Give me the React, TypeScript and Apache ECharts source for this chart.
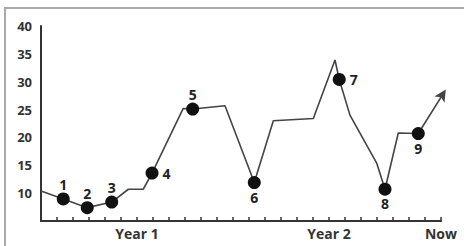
import React, { useEffect, useRef } from "react";
import * as echarts from "echarts";

// Line path (x = months from start, y = value)
const pathX = [0, 1.39, 2.89, 4.42, 5.46, 6.39, 6.94, 8.89, 9.48, 11.5, 13.33, 14.52, 17.02, 18.375, 18.64, 19.31, 20.98, 21.5, 22.33, 23.58, 25.3];
const pathY = [10.4, 8.95, 7.4, 8.4, 10.7, 10.7, 13.6, 25.2, 25.1, 25.7, 11.9, 23.0, 23.4, 33.9, 30.4, 24.0, 15.4, 10.7, 20.8, 20.7, 28.6];

// Marked, numbered points: index into the path
const markedIdx = [1, 2, 3, 6, 8, 10, 14, 17, 19];
const markedNames = ["1", "2", "3", "4", "5", "6", "7", "8", "9"];
const markedLabelPos = ["top", "top", "top", "right", "top", "bottom", "right", "bottom", "bottom"];

// Axis labels
const xLabelPositions = [6, 18, 25];
const xLabelTexts = ["Year 1", "Year 2", "Now"];
const yTicks = [10, 15, 20, 25, 30, 35, 40];

const FONT = "'Open Sans', 'Noto Sans', sans-serif";

export default function App() {
  const ref = useRef<HTMLDivElement>(null);
  useEffect(() => {
    if (!ref.current) return;
    const chart = echarts.init(ref.current, null, { renderer: "svg" });
    const lastIdx = pathX.length - 1;
    const data = pathX.map((x, i) => {
      const mi = markedIdx.indexOf(i);
      if (mi >= 0) {
        return {
          value: [x, pathY[i]],
          symbol: "circle",
          symbolSize: 13,
          itemStyle: { color: "#111" },
          label: {
            show: true,
            formatter: markedNames[mi],
            position: markedLabelPos[mi],
            distance: markedLabelPos[mi] === "right" ? 4 : 1,
            color: "#222",
            fontSize: 14,
            fontWeight: 700,
            fontFamily: FONT,
          },
        };
      }
      if (i === lastIdx) {
        return {
          value: [x, pathY[i]],
          symbol: "arrow",
          symbolSize: [9, 12],
          symbolRotate: -32,
          itemStyle: { color: "#444" },
        };
      }
      return { value: [x, pathY[i]], symbol: "none" };
    });

    chart.setOption({
      animation: false,
      backgroundColor: "#fff",
      grid: { left: 41, right: 23, top: 26, bottom: 25 },
      graphic: [
        {
          type: "rect",
          shape: { x: 5, y: 8, width: 520, height: 300 },
          style: { fill: "none", stroke: "#aaa", lineWidth: 2 },
          silent: true,
        },
      ],
      xAxis: {
        type: "value",
        min: 0,
        max: 25,
        interval: 1,
        axisLine: { show: true, lineStyle: { color: "#333", width: 2 } },
        axisTick: { show: true, inside: true, length: 4, lineStyle: { color: "#333", width: 1.5 } },
        splitLine: { show: false },
        axisLabel: {
          show: true,
          margin: 5,
          color: "#333",
          fontSize: 14,
          fontWeight: 700,
          fontFamily: FONT,
          showMinLabel: true,
          showMaxLabel: true,
          formatter: (v: number) => {
            const k = xLabelPositions.indexOf(Math.round(v));
            return k >= 0 && Math.abs(v - xLabelPositions[k]) < 1e-6 ? xLabelTexts[k] : "";
          },
        },
      },
      yAxis: {
        type: "value",
        min: 5,
        max: 40,
        interval: 5,
        axisLine: { show: true, lineStyle: { color: "#333", width: 2 } },
        axisTick: { show: false },
        splitLine: { show: false },
        axisLabel: {
          margin: 9,
          color: "#333",
          fontSize: 13,
          fontWeight: 700,
          fontFamily: FONT,
          formatter: (v: number) => (yTicks.indexOf(v) >= 0 ? String(v) : ""),
        },
      },
      series: [
        {
          type: "line",
          data,
          clip: false,
          showSymbol: true,
          lineStyle: { color: "#444", width: 1.6 },
          itemStyle: { color: "#111" },
        },
      ],
    });
    return () => chart.dispose();
  }, []);
  return (
    <div
      ref={ref}
      style={{ position: "fixed", left: 0, top: 0, width: 464, height: 246 }}
    />
  );
}
